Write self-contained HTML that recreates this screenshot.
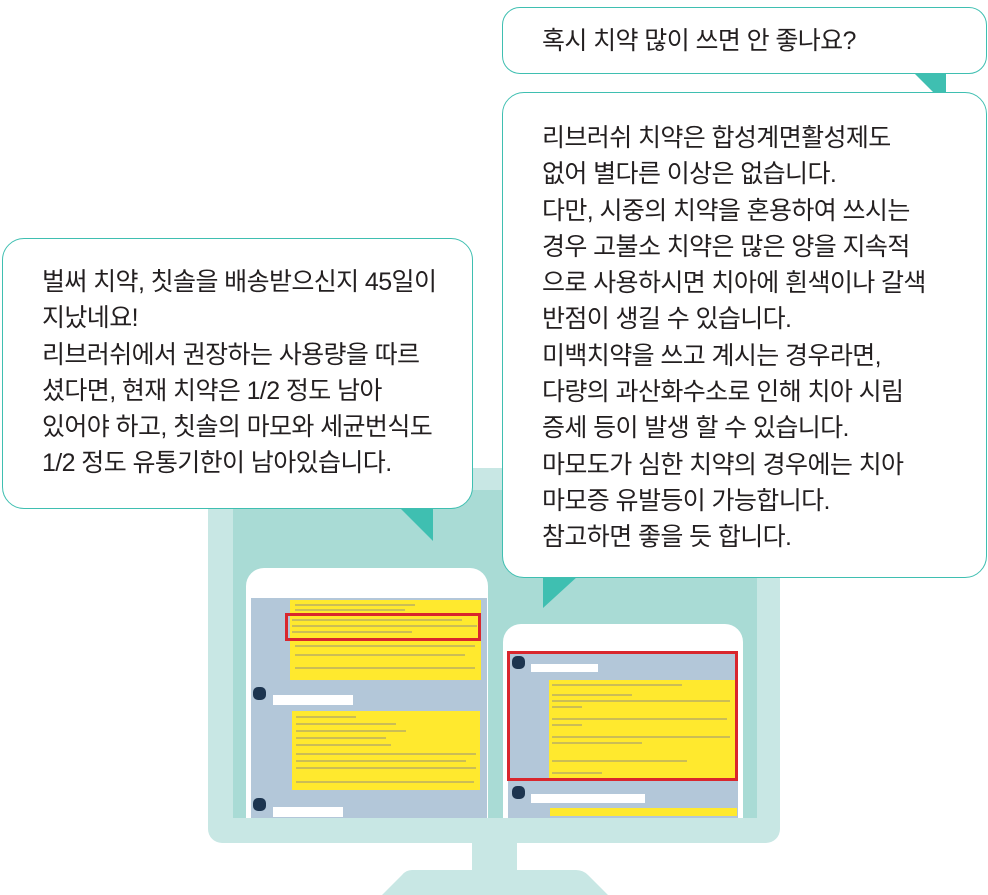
<!DOCTYPE html>
<html><head><meta charset="utf-8"><style>
*{margin:0;padding:0;box-sizing:border-box}
body{width:988px;height:895px;background:#fff;position:relative;overflow:hidden;font-family:"Liberation Sans","Noto Sans CJK KR",sans-serif;color:#231f20}
.a{position:absolute}
.bub{position:absolute;background:#fff;border:1.5px solid #3fbfb1;border-radius:22px}
.txt{position:absolute;font-size:25px;line-height:36.3px;letter-spacing:-0.6px;white-space:nowrap}
.y{position:absolute;background:#ffe92e}
.w{position:absolute;background:#fff}
.av{position:absolute;width:13px;height:13px;border-radius:5px;background:#1d3550}
.ln{position:absolute;height:2px;background:#a9a070;opacity:.6}
</style></head><body>
<!-- monitor -->
<div class="a" style="left:208px;top:468px;width:572px;height:375px;background:#c8e7e4;border-radius:14px"></div>
<div class="a" style="left:233px;top:490px;width:524px;height:328px;background:#a9dbd5"></div>
<div class="a" style="left:472px;top:843px;width:45px;height:28px;background:#c8e7e4"></div>
<svg class="a" style="left:0;top:0" width="988" height="895"><path d="M412,870 L576,870 Q583,870 588,875 L608,895 L382,895 L402,875 Q406,870 412,870 Z" fill="#c8e7e4"/></svg>

<!-- left phone -->
<div class="a" style="left:246px;top:568px;width:242px;height:250px;background:#fff;border-radius:18px 18px 0 0"></div>
<div class="a" style="left:251px;top:598px;width:236px;height:220px;background:#b3c7d9"></div>
<div class="y" style="left:290px;top:600px;width:191px;height:80px"></div>
<div class="a" style="left:285px;top:613px;width:196px;height:28px;border:3px solid #d9262d"></div>
<div class="ln" style="left:295px;top:604px;width:120px"></div>
<div class="ln" style="left:295px;top:609px;width:110px"></div>
<div class="ln" style="left:292px;top:619px;width:170px"></div>
<div class="ln" style="left:292px;top:625px;width:185px"></div>
<div class="ln" style="left:292px;top:631px;width:120px"></div>
<div class="ln" style="left:295px;top:645px;width:180px"></div>
<div class="ln" style="left:295px;top:654px;width:170px"></div>
<div class="ln" style="left:295px;top:667px;width:180px"></div>
<div class="av" style="left:253px;top:687px"></div>
<div class="w" style="left:273px;top:695px;width:80px;height:10px"></div>
<div class="y" style="left:292px;top:711px;width:188px;height:79px"></div>
<div class="ln" style="left:296px;top:716px;width:60px"></div>
<div class="ln" style="left:296px;top:723px;width:100px"></div>
<div class="ln" style="left:296px;top:730px;width:110px"></div>
<div class="ln" style="left:296px;top:737px;width:90px"></div>
<div class="ln" style="left:296px;top:744px;width:95px"></div>
<div class="ln" style="left:296px;top:753px;width:180px"></div>
<div class="ln" style="left:296px;top:760px;width:170px"></div>
<div class="ln" style="left:296px;top:767px;width:180px"></div>
<div class="ln" style="left:296px;top:781px;width:178px"></div>
<div class="av" style="left:253px;top:798px"></div>
<div class="w" style="left:273px;top:807px;width:70px;height:10px"></div>

<!-- right phone -->
<div class="a" style="left:503px;top:624px;width:240px;height:194px;background:#fff;border-radius:18px 18px 0 0"></div>
<div class="a" style="left:508px;top:651px;width:230px;height:167px;background:#b3c7d9"></div>
<div class="y" style="left:549px;top:680px;width:186px;height:98px"></div>
<div class="av" style="left:512px;top:656px"></div>
<div class="w" style="left:531px;top:664px;width:67px;height:8px"></div>
<div class="ln" style="left:552px;top:684px;width:130px"></div>
<div class="ln" style="left:552px;top:694px;width:80px"></div>
<div class="ln" style="left:552px;top:700px;width:178px"></div>
<div class="ln" style="left:552px;top:706px;width:30px"></div>
<div class="ln" style="left:552px;top:718px;width:175px"></div>
<div class="ln" style="left:552px;top:724px;width:30px"></div>
<div class="ln" style="left:552px;top:736px;width:178px"></div>
<div class="ln" style="left:552px;top:742px;width:90px"></div>
<div class="ln" style="left:552px;top:760px;width:135px"></div>
<div class="ln" style="left:552px;top:772px;width:50px"></div>
<div class="a" style="left:507px;top:651px;width:231px;height:130px;border:3px solid #d9262d"></div>
<div class="av" style="left:512px;top:786px"></div>
<div class="w" style="left:531px;top:794px;width:114px;height:9px"></div>
<div class="y" style="left:550px;top:808px;width:187px;height:8px"></div>

<!-- tails -->
<svg class="a" style="left:0;top:0" width="988" height="895">
<polygon points="399,507 433,507 433,541" fill="#3fbfb1"/>
<polygon points="913,72 946,72 946,105" fill="#3fbfb1"/>
<polygon points="543,576 578,576 543,608" fill="#3fbfb1"/>
</svg>

<!-- bubbles -->
<div class="bub" style="left:2px;top:238px;width:471px;height:271px"></div>
<div class="txt" style="left:42px;top:264px">벌써 치약, 칫솔을 배송받으신지 45일이<br>지났네요!<br>리브러쉬에서 권장하는 사용량을 따르<br>셨다면, 현재 치약은 1/2 정도 남아<br>있어야 하고, 칫솔의 마모와 세균번식도<br>1/2 정도 유통기한이 남아있습니다.</div>

<div class="bub" style="left:502px;top:7px;width:485px;height:67px;border-radius:18px"></div>
<div class="txt" style="left:542px;top:23px">혹시 치약 많이 쓰면 안 좋나요?</div>

<div class="bub" style="left:502px;top:92px;width:485px;height:486px"></div>
<div class="txt" style="left:542px;top:120px">리브러쉬 치약은 합성계면활성제도<br>없어 별다른 이상은 없습니다.<br>다만, 시중의 치약을 혼용하여 쓰시는<br>경우 고불소 치약은 많은 양을 지속적<br>으로 사용하시면 치아에 흰색이나 갈색<br>반점이 생길 수 있습니다.<br>미백치약을 쓰고 계시는 경우라면,<br>다량의 과산화수소로 인해 치아 시림<br>증세 등이 발생 할 수 있습니다.<br>마모도가 심한 치약의 경우에는 치아<br>마모증 유발등이 가능합니다.<br>참고하면 좋을 듯 합니다.</div>
</body></html>
